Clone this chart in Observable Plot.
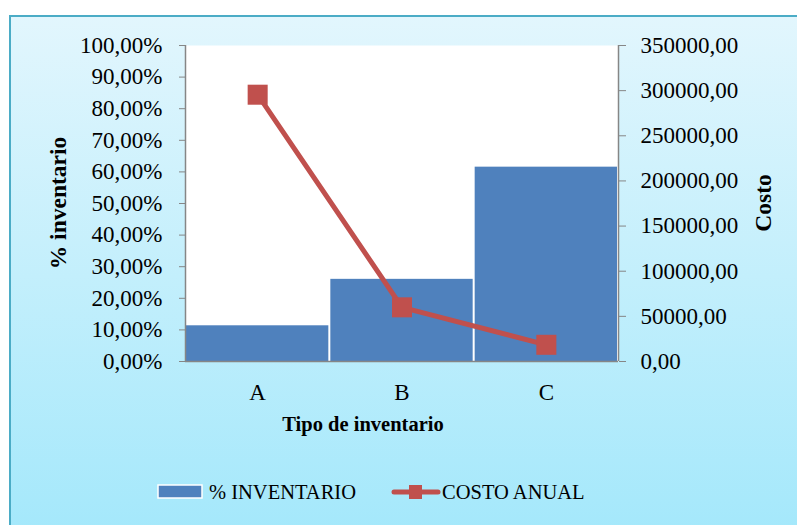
<!DOCTYPE html>
<html>
<head>
<meta charset="utf-8">
<script src="https://cdn.jsdelivr.net/npm/d3@7"></script>
<script src="https://cdn.jsdelivr.net/npm/@observablehq/plot@0.6"></script>
<style>
  body { margin: 0; background: #fff; }
  #chart { position: relative; width: 797px; height: 525px; overflow: hidden; }
  #panel { position: absolute; left: 9px; top: 15px; width: 800px; height: 520px;
           box-sizing: border-box; border-left: 2px solid #4BACC6; border-top: 2px solid #4BACC6;
           background: linear-gradient(#E2F6FD, #A4E8FB); }
  #plot { position: absolute; left: 0; top: 0; }
</style>
</head>
<body>
<div id="chart">
  <div id="panel"></div>
  <div id="plot"></div>
</div>
<script>
// Inventory types
const categories = ["A", "B", "C"];
// Share of inventory per type (%)
const inventoryPct = [11.3, 26.0, 61.5];
// Annual cost per type
const annualCost = [295500, 60000, 18500];
// Axis tick values
const pctTicks = [0, 10, 20, 30, 40, 50, 60, 70, 80, 90, 100];
const costTicks = [0, 50000, 100000, 150000, 200000, 250000, 300000, 350000];
const costMax = 350000;

const BAR = "#4F81BD", LINE = "#C0504D", AXIS = "#868686";
const FONT = "'Liberation Serif', 'Times New Roman', serif";

const rows = categories.map((c, i) => ({ cat: c, i, pct: inventoryPct[i], cost: annualCost[i] }));
// cost is plotted on the percentage scale: 350000 maps to 100%
const toPct = v => v / costMax * 100;
const comma = (v, d) => v.toFixed(d).replace(".", ",");

const plot = Plot.plot({
  width: 797,
  height: 525,
  marginTop: 45,
  marginLeft: 185,
  marginRight: 179,
  marginBottom: 164,
  style: { background: "transparent", fontFamily: FONT, fontSize: "23px", color: "#000" },
  x: { domain: [0, 3] },
  y: { domain: [0, 100] },
  marks: [
    Plot.frame({ fill: "white", stroke: "none" }),
    Plot.rectY(rows, { x1: "i", x2: d => d.i + 1, y: "pct", fill: BAR, insetLeft: 1, insetRight: 1 }),
    Plot.ruleX([0, 3], { stroke: AXIS, strokeWidth: 1.5 }),
    Plot.ruleY([0], { stroke: AXIS, strokeWidth: 1.5 }),
    Plot.axisY(pctTicks, { anchor: "left", tickSize: 6, tickPadding: 17, stroke: AXIS, fill: "#000",
      tickFormat: d => comma(d, 2) + "%", label: null }),
    Plot.axisY(costTicks.map(toPct), { anchor: "right", tickSize: 7, tickPadding: 15, stroke: AXIS, fill: "#000",
      tickFormat: d => comma(Math.round(d * costMax / 100), 2), label: null }),
    Plot.axisX(rows.map(d => d.i + 0.5), { tickSize: 0, tickPadding: 22, fill: "#000",
      tickFormat: d => categories[Math.floor(d)], label: null }),
    Plot.line(rows, { x: d => d.i + 0.5, y: d => toPct(d.cost), stroke: LINE, strokeWidth: 5 }),
    Plot.dot(rows, { x: d => d.i + 0.5, y: d => toPct(d.cost), symbol: "square", r: 11.3, fill: LINE })
  ]
});

// Axis titles and legend
const svg = d3.select(plot);
const g = svg.append("g").attr("font-family", FONT).attr("fill", "#000");
g.append("text").attr("transform", "translate(58,203) rotate(-90)")
  .attr("text-anchor", "middle").attr("dy", "0.35em")
  .attr("font-weight", "bold").attr("font-size", 23.5).text("% inventario");
g.append("text").attr("transform", "translate(763,203) rotate(-90)")
  .attr("text-anchor", "middle").attr("dy", "0.35em")
  .attr("font-weight", "bold").attr("font-size", 23.5).text("Costo");
g.append("text").attr("x", 363).attr("y", 424)
  .attr("text-anchor", "middle").attr("dy", "0.35em")
  .attr("font-weight", "bold").attr("font-size", 20.5).text("Tipo de inventario");

const lg = g.append("g").attr("transform", "translate(0,492)");
lg.append("rect").attr("x", 158).attr("y", -7).attr("width", 44).attr("height", 13)
  .attr("fill", BAR).attr("stroke", "#fff").attr("stroke-width", 1.5);
lg.append("text").attr("x", 209).attr("dy", "0.35em").attr("text-anchor", "start")
  .attr("font-size", 20.5).text("% INVENTARIO");
lg.append("line").attr("x1", 394).attr("x2", 438).attr("stroke", LINE)
  .attr("stroke-width", 5).attr("stroke-linecap", "round");
lg.append("rect").attr("x", 409).attr("y", -7).attr("width", 13).attr("height", 14).attr("fill", LINE);
lg.append("text").attr("x", 442).attr("dy", "0.35em").attr("text-anchor", "start")
  .attr("font-size", 20.5).text("COSTO ANUAL");

document.getElementById("plot").appendChild(plot);
</script>
</body>
</html>
